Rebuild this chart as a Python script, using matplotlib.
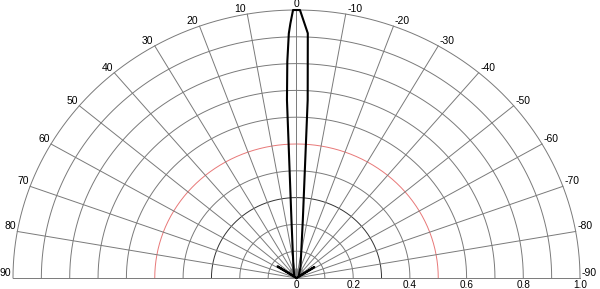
import numpy as np
import matplotlib
matplotlib.use("Agg")
import matplotlib.pyplot as plt

plt.rcParams['font.family'] = ['Liberation Sans', 'DejaVu Sans']

# angles in degrees, positive to the left (0 = top)
angulos_graus = [-90, -60, -57, -50, -19, -5.9, -3.4, -2.5, -0.7, 0.7, 1.3, 1.7, 2.3, 2.9, 4.7, 16, 50, 57, 60, 90]
amplitude = [0.0, 0.01, 0.075, 0.01, 0.043, 0.217, 0.665, 0.914, 1.0, 1.0, 0.95, 0.913, 0.808, 0.665, 0.217, 0.039, 0.01, 0.08, 0.01, 0.0]

# small grey pattern near the origin
angulos_cinza = [-90, -60, -30, 0, 30, 60, 90]
amplitude_cinza = [0.0, 0.035, 0.04, 0.035, 0.04, 0.035, 0.0]

rotulos_angulo = list(range(-90, 100, 10))
rotulos_raio = [0, 0.2, 0.4, 0.6, 0.8, 1.0]
circulos = [0.1, 0.2, 0.3, 0.4, 0.5, 0.6, 0.7, 0.8, 0.9, 1.0]


def polar_para_xy(ang_graus, r):
    t = np.radians(np.asarray(ang_graus, dtype=float))
    r = np.asarray(r, dtype=float)
    return -r * np.sin(t), r * np.cos(t)


fig = plt.figure(figsize=(6.0, 2.89), dpi=100)
ax = fig.add_axes([13 / 600, 11 / 289, 567 / 600, 268 / 289])
ax.set_xlim(-1, 1)
ax.set_ylim(0, 1)
ax.axis('off')

cinza = '#7a7a7a'
t = np.linspace(-90, 90, 361)
for c in circulos:
    x, y = polar_para_xy(t, np.full_like(t, c))
    if c == 0.5:
        ax.plot(x, y, color='#e87878', lw=0.7, clip_on=False)
    elif c == 0.3:
        ax.plot(x, y, color='#333333', lw=0.7, clip_on=False)
    else:
        ax.plot(x, y, color=cinza, lw=0.7, clip_on=False)

for a in rotulos_angulo:
    x, y = polar_para_xy([0, a], [0, 1.0])
    ax.plot(x, y, color=cinza, lw=0.7, clip_on=False)

# grey pattern
xg, yg = polar_para_xy(angulos_cinza, amplitude_cinza)
ax.fill(xg, yg, color='#9a9a9a', lw=0, clip_on=False)

# main pattern
xp, yp = polar_para_xy(angulos_graus, amplitude)
ax.plot(xp, yp, color='black', lw=1.5, clip_on=False, solid_joinstyle='round')

# angle labels
for a in rotulos_angulo:
    x, y = polar_para_xy(a, 1.0)
    if a == 0:
        ax.annotate('0', (x, y), xytext=(0, 0.5), textcoords='offset points',
                    ha='center', va='bottom', fontsize=7.5)
    elif a > 0:
        ax.annotate(str(a), (x, y), xytext=(-1, 0), textcoords='offset points',
                    ha='right', va='bottom', fontsize=7.5)
    else:
        ax.annotate(str(a), (x, y), xytext=(1, 0), textcoords='offset points',
                    ha='left', va='bottom', fontsize=7.5)

# radial labels
for r in rotulos_raio:
    rot = '0' if r == 0 else f'{r:.1f}'
    ax.annotate(rot, (r, 0), xytext=(0, -1.5), textcoords='offset points',
                ha='center', va='top', fontsize=7.2)

fig.savefig('out.png', dpi=100)
